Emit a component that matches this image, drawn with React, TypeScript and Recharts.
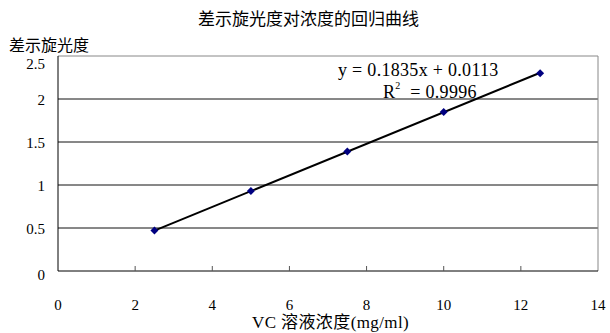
import React from 'react';
import {
  ScatterChart,
  Scatter,
  XAxis,
  YAxis,
  ReferenceLine,
} from 'recharts';

// measured values
const concX = [2.5, 5, 7.5, 10, 12.5];
const rotationY = [0.47, 0.93, 1.39, 1.85, 2.3];

// regression line end points (y = 0.1835x + 0.0113)
const trendX = [2.5, 12.5];
const trendY = [0.47, 2.305];

const xTicks = [0, 2, 4, 6, 8, 10, 12, 14];
const yTicks = [0, 0.5, 1, 1.5, 2, 2.5];
const gridValues = [0.5, 1, 1.5, 2];

const points = concX.map((x, i) => ({ x, y: rotationY[i] }));
const trend = trendX.map((x, i) => ({ x, y: trendY[i] }));

const serif = "'Liberation Serif', 'Times New Roman', 'Noto Sans CJK SC', serif";
const cjk = "'Noto Sans CJK SC', sans-serif";

const Diamond = (props: any) => {
  const { cx, cy } = props;
  const r = 4;
  return (
    <polygon
      points={`${cx},${cy - r} ${cx + r},${cy} ${cx},${cy + r} ${cx - r},${cy}`}
      fill="#000080"
    />
  );
};

const XTick = (props: any) => {
  const { x, y, payload } = props;
  const v = payload.value;
  return (
    <g>
      {v > 0 && v < 14 && (
        <line x1={x} x2={x} y1={y} y2={y - 5} stroke="#555" strokeWidth={1} />
      )}
      <text x={x} y={y + 39} textAnchor="middle" fill="#000" fontSize={15} fontFamily={serif}>
        {v}
      </text>
    </g>
  );
};

// excel nudges the end labels a bit off their lines
const YTick = (props: any) => {
  const { x, y, payload } = props;
  const v = payload.value;
  const shift = v === 2.5 ? 8 : v === 0 ? 4 : 1;
  return (
    <text x={x} y={y + shift} dy="0.355em" textAnchor="end" fill="#000" fontSize={15} fontFamily={serif}>
      {v}
    </text>
  );
};

const App: React.FC = () => {
  return (
    <div style={{ position: 'absolute', left: 0, top: 0, width: 610, height: 333, background: '#fff' }}>
      <div style={{ position: 'absolute', left: 198, top: 6, fontSize: 17, lineHeight: '24px', fontFamily: cjk, color: '#000', whiteSpace: 'nowrap' }}>
        差示旋光度对浓度的回归曲线
      </div>
      <div style={{ position: 'absolute', left: 9, top: 32, fontSize: 16, lineHeight: '24px', fontFamily: cjk, color: '#000', whiteSpace: 'nowrap' }}>
        差示旋光度
      </div>
      <ScatterChart width={610} height={333} margin={{ top: 56, right: 12, bottom: 22, left: 0 }}>
        <XAxis
          type="number"
          dataKey="x"
          domain={[0, 14]}
          ticks={xTicks}
          height={40}
          axisLine={{ stroke: '#000' }}
          tickLine={false}
          tickSize={0}
          tickMargin={0}
          tick={<XTick />}
          interval={0}
        />
        <YAxis
          type="number"
          dataKey="y"
          domain={[0, 2.5]}
          ticks={yTicks}
          width={58}
          axisLine={{ stroke: '#000' }}
          tickLine={false}
          tickSize={0}
          tickMargin={13}
          tick={<YTick />}
          interval={0}
        />
        {gridValues.map(v => (
          <ReferenceLine key={v} y={v} stroke="#111" strokeWidth={1} />
        ))}
        <ReferenceLine y={2.5} stroke="#888" strokeWidth={1} />
        <ReferenceLine x={14} stroke="#888" strokeWidth={1} />
        <Scatter
          data={trend}
          line={{ stroke: '#000', strokeWidth: 2 }}
          shape={() => <g />}
          isAnimationActive={false}
        />
        <Scatter data={points} shape={<Diamond />} isAnimationActive={false} />
      </ScatterChart>
      <div style={{ position: 'absolute', left: 338, top: 60, fontSize: 18, letterSpacing: 0.3, fontFamily: serif, color: '#000', whiteSpace: 'nowrap', lineHeight: '20px' }}>
        y = 0.1835x + 0.0113
      </div>
      <div style={{ position: 'absolute', left: 383, top: 82, fontSize: 18, letterSpacing: 0.3, fontFamily: serif, color: '#000', whiteSpace: 'nowrap', lineHeight: '20px' }}>
        R<span style={{ fontSize: 10, position: 'relative', top: -9 }}>2</span>&nbsp;&nbsp;= 0.9996
      </div>
      <div style={{ position: 'absolute', left: 252, top: 312, fontSize: 17, letterSpacing: 0.4, fontFamily: serif, color: '#000', whiteSpace: 'nowrap', lineHeight: '22px' }}>
        VC 溶液浓度(mg/ml)
      </div>
    </div>
  );
};

export default App;
